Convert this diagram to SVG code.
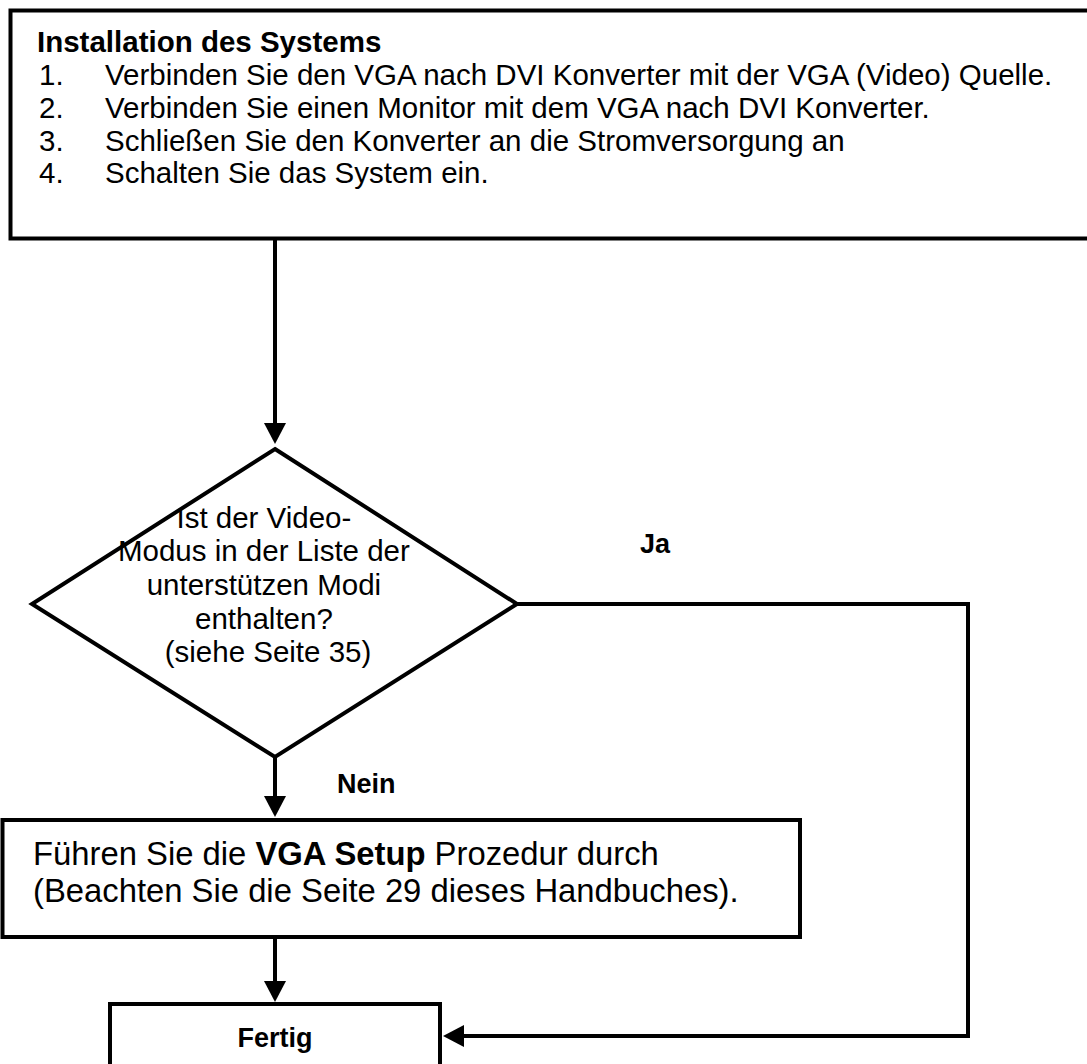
<svg xmlns="http://www.w3.org/2000/svg" width="1087" height="1064" viewBox="0 0 1087 1064">
<style>
.box{fill:#fff;stroke:#000;stroke-width:4}
.ln{fill:none;stroke:#000;stroke-width:4}
text{font-family:"Liberation Sans",Arial,sans-serif;fill:#000}
.t{font-size:29.5px}
.b{font-weight:bold}
.lab{font-size:27px;font-weight:bold}
.big{font-size:32.8px}
</style>
<defs>
<marker id="ah" markerUnits="userSpaceOnUse" markerWidth="22" markerHeight="22" refX="11" refY="11" orient="auto" viewBox="0 0 22 22">
<path d="M0,0 L21,11 L0,22 z" fill="#000"/>
</marker>
</defs>
<rect width="1087" height="1064" fill="#fff"/>
<g id="connectors">
<path class="ln" d="M275,238 V434" marker-end="url(#ah)"/>
<path class="ln" d="M275,757 V807" marker-end="url(#ah)"/>
<path class="ln" d="M275,937 V992" marker-end="url(#ah)"/>
<path class="ln" d="M517,604 H968 V1036 H453" marker-end="url(#ah)"/>
<text class="lab" x="640" y="553">Ja</text>
<text class="lab" x="337" y="793">Nein</text>
</g>
<g id="install">
<rect class="box" x="10.5" y="10.5" width="1090" height="228"/>
<text class="t b" x="37" y="52">Installation des Systems</text>
<text class="t" x="39" y="85">1.</text>
<text class="t" x="105" y="85">Verbinden Sie den VGA nach DVI Konverter mit der VGA (Video) Quelle.</text>
<text class="t" x="39" y="118">2.</text>
<text class="t" x="105" y="118">Verbinden Sie einen Monitor mit dem VGA nach DVI Konverter.</text>
<text class="t" x="39" y="150.5">3.</text>
<text class="t" x="105" y="150.5">Schließen Sie den Konverter an die Stromversorgung an</text>
<text class="t" x="39" y="183">4.</text>
<text class="t" x="105" y="183">Schalten Sie das System ein.</text>
</g>
<g id="decision">
<polygon class="box" points="275,449 517,604 275,757 32,604"/>
<text class="t" text-anchor="middle">
<tspan x="268" y="527.5">Ist der Video-</tspan>
<tspan x="268" y="561.2">Modus in der Liste der</tspan>
<tspan x="268" y="594.9">unterstützen Modi</tspan>
<tspan x="268" y="628.6">enthalten?</tspan>
<tspan x="268" y="662.3">(siehe Seite 35)</tspan>
</text>
</g>
<g id="setup">
<rect class="box" x="2.5" y="820" width="797.5" height="117"/>
<text class="big" x="33" y="865">Führen Sie die <tspan class="b">VGA Setup</tspan> Prozedur durch</text>
<text class="big" x="33" y="902">(Beachten Sie die Seite 29 dieses Handbuches).</text>
</g>
<g id="fertig">
<rect class="box" x="110" y="1004" width="330" height="80"/>
<text class="lab" x="275" y="1047" text-anchor="middle">Fertig</text>
</g>
</svg>
